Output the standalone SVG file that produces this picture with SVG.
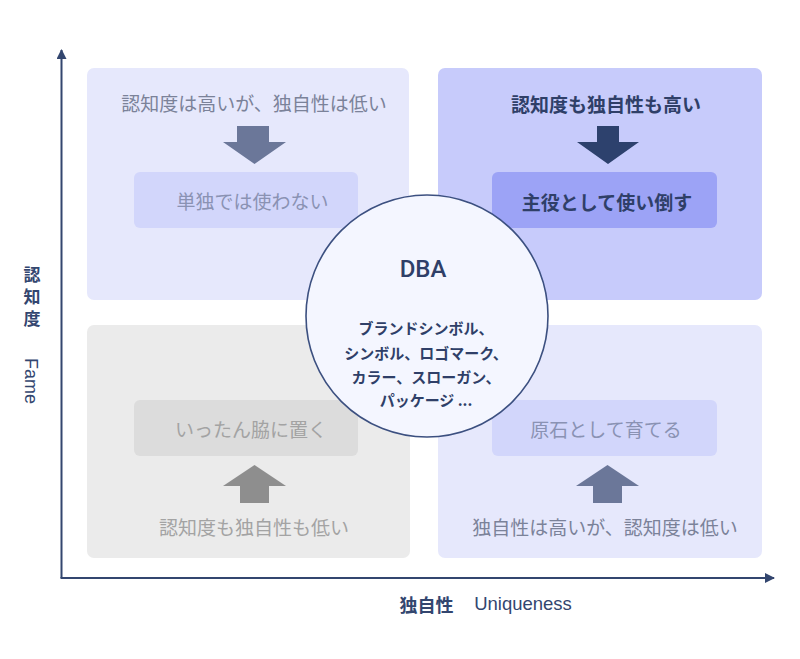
<svg xmlns="http://www.w3.org/2000/svg" width="800" height="659" viewBox="0 0 800 659">
<defs>
<style>
.t{font-family:"Noto Sans CJK JP","Liberation Sans",sans-serif;font-size:19px;text-anchor:middle;dominant-baseline:central}
.b{font-weight:bold}
.lat{font-family:"Liberation Sans","Noto Sans CJK JP",sans-serif}
.ax{stroke:#33466f;stroke-width:2;fill:none}
</style>
<marker id="ah" viewBox="0 0 10 10" refX="9" refY="5" markerWidth="5" markerHeight="5" orient="auto" markerUnits="strokeWidth">
<path d="M0,0 L10,5 L0,10 Z" fill="#33466f"/>
</marker>
</defs>
<rect width="800" height="659" fill="#ffffff"/>

<g id="q-tl">
<rect x="87" y="68" width="322" height="232" rx="7" fill="#e6e8fc"/>
<text class="t" x="254" y="102.5" fill="#7b8299">認知度は高いが、独自性は低い</text>
<path d="M237,126 H269 V142 H286 L254.5,164 L223,142 H237 Z" fill="#6b7799"/>
<rect x="134" y="172" width="224" height="56" rx="6" fill="#d2d6fb"/>
<text class="t" x="252.5" y="200.5" fill="#8a92b3">単独では使わない</text>
</g>

<g id="q-tr">
<rect x="438" y="68" width="324" height="232" rx="7" fill="#c7cbfb"/>
<text class="t b" x="606" y="103.5" fill="#2f3f68">認知度も独自性も高い</text>
<path d="M597,126 H619 V142 H639 L608,164 L577,142 H597 Z" fill="#2d416d"/>
<rect x="492" y="172" width="225" height="56" rx="6" fill="#9ca3f6"/>
<text class="t b" x="607" y="201" fill="#2f3f68">主役として使い倒す</text>
</g>

<g id="q-bl">
<rect x="87" y="325" width="323" height="233" rx="7" fill="#ebebeb"/>
<rect x="134" y="400" width="224" height="56" rx="6" fill="#dcdcdc"/>
<text class="t" x="251" y="428" fill="#a3a3a3">いったん脇に置く</text>
<path d="M254.5,465 L286,486 H269 V503 H240 V486 H223 Z" fill="#8e8e8e"/>
<text class="t" x="254" y="526" fill="#a3a3a3">認知度も独自性も低い</text>
</g>

<g id="q-br">
<rect x="438" y="325" width="324" height="233" rx="7" fill="#e6e8fc"/>
<rect x="492" y="400" width="225" height="56" rx="6" fill="#d2d6fb"/>
<text class="t" x="606" y="428" fill="#8a92b3">原石として育てる</text>
<path d="M607.5,465 L639,486 H622 V503 H593 V486 H576 Z" fill="#6b7799"/>
<text class="t" x="605" y="526" fill="#7b8299">独自性は高いが、認知度は低い</text>
</g>

<g id="connectors">
<path class="ax" d="M61.5,578 V50" marker-end="url(#ah)"/>
<path class="ax" d="M60.5,578 H774" marker-end="url(#ah)"/>
</g>

<g id="dba">
<circle cx="427" cy="316" r="121" fill="#f4f6ff" stroke="#3c5080" stroke-width="1.6"/>
<text class="t" x="423" y="268.5" fill="#2f3f68" style="font-family:Roboto,'Liberation Sans',sans-serif;font-weight:500;font-size:24px">DBA</text>
<g class="t b" fill="#2f3f68" style="font-size:15px">
<text x="426" y="327.5">ブランドシンボル、</text>
<text x="426" y="352.5">シンボル、ロゴマーク、</text>
<text x="426" y="376">カラー、スローガン、</text>
<text x="426" y="399.5">パッケージ ...</text>
</g>
</g>

<g id="y-label" fill="#33466f">
<text x="32" y="299" style="font-family:'Noto Sans CJK JP',sans-serif;font-weight:bold;font-size:17px;writing-mode:vertical-rl;text-anchor:middle;letter-spacing:5px">認知度</text>
<text class="t lat" x="0" y="0" transform="translate(31,381) rotate(90)" style="font-size:18px">Fame</text>
</g>

<g id="x-label" fill="#33466f">
<text class="t b" x="426.5" y="603.5" style="font-size:18px">独自性</text>
<text class="t lat" x="523" y="603.5" style="font-size:18.5px">Uniqueness</text>
</g>
</svg>
